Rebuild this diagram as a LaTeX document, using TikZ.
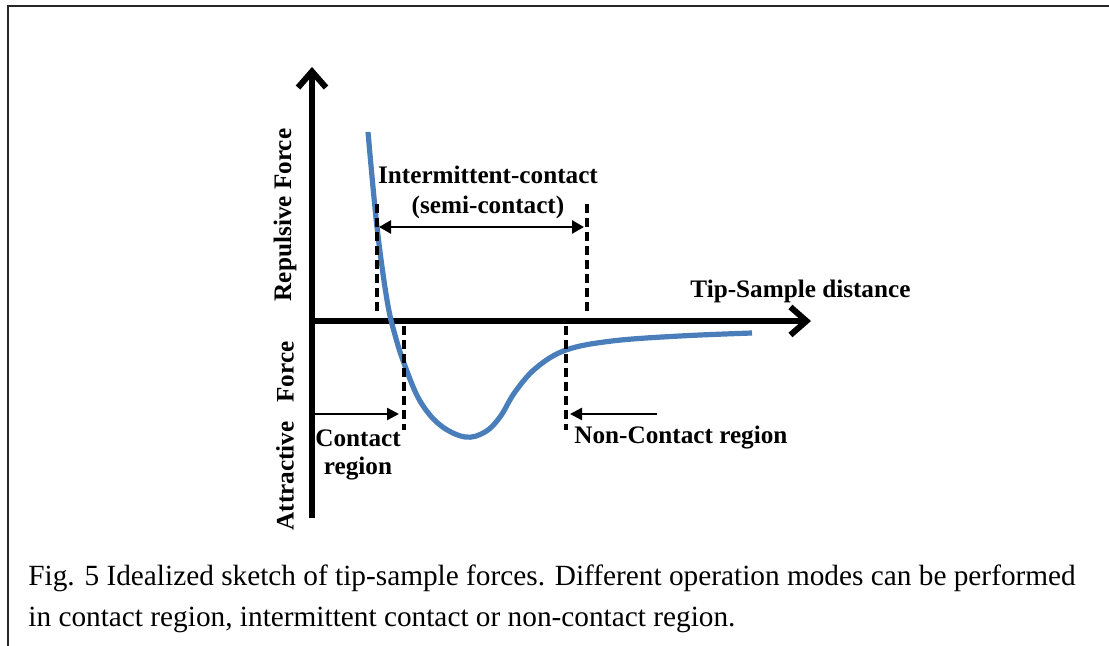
\documentclass[tikz,border=0pt]{standalone}
\usepackage{fontspec}
\setmainfont{Liberation Serif}
\usetikzlibrary{arrows.meta}

\definecolor{curveblue}{RGB}{74,126,187}
\tikzset{
  axisline/.style={line width=3pt, -{Straight Barb[length=8pt,width=14pt]}},
  bound/.style={line width=1.6pt, dash pattern=on 4.5pt off 2.5pt},
  span/.style={line width=1.3pt, {Triangle[length=6pt,width=6.5pt]}-{Triangle[length=6pt,width=6.5pt]}},
  pointer/.style={line width=1.2pt, -{Triangle[length=6pt,width=6pt]}},
  lbl/.style={font=\fontsize{12.6}{14}\selectfont\bfseries, inner sep=0pt},
  captxt/.style={font=\fontsize{14.65}{16}\selectfont, inner sep=0pt, anchor=west}
}

\begin{document}
\begin{tikzpicture}[x=0.5pt,y=-0.5pt]
  \useasboundingbox (0,0) rectangle (1109,646);
  % frame
  \draw[line width=1pt, black!85] (1109,6) -- (8,6) -- (8,646);

  % axes
  \coordinate (O) at (312,321);
  \coordinate (ybot) at (312,518);
  \coordinate (ytop) at (312,67);
  \coordinate (xend) at (811,321);
  \draw[axisline] (ybot) -- (ytop);
  \draw[axisline] (O) -- (xend);

  \node[lbl, rotate=90] (rep) at (285,215) {Repulsive Force};
  \node[lbl, rotate=90] (att) at (285,436) {Attractive\hspace{0.75em}Force};
  \node[lbl, anchor=west] (dist) at (690,291) {Tip-Sample distance};

  % force curve
  \draw[curveblue, line width=2.6pt] plot[smooth, tension=0.6] coordinates {
    (368,132) (377,227) (387,300) (395,335) (405,366) (420,401) (440,425)
    (465,437) (485,432) (500,417) (515,392) (536,368) (566,350) (612,341)
    (680,336) (752,333)};

  % intermittent region
  \coordinate (ia) at (377,204);
  \coordinate (ib) at (377,316);
  \coordinate (ic) at (587,204);
  \coordinate (id) at (587,316);
  \draw[bound] (ia) -- (ib);
  \draw[bound] (ic) -- (id);
  \coordinate (sl) at (379,227);
  \coordinate (sr) at (584,227);
  \draw[span] (sl) -- (sr);
  \node[lbl] (inter) at (488,175) {Intermittent-contact};
  \node[lbl] (semi) at (488,207) {(semi-contact)};

  % contact region
  \coordinate (ca) at (404,326);
  \coordinate (cb) at (404,430);
  \draw[bound] (ca) -- (cb);
  \coordinate (cl) at (312,414);
  \coordinate (cr) at (399,414);
  \draw[pointer] (cl) -- (cr);
  \node[lbl] (cont) at (358,438) {Contact};
  \node[lbl] (creg) at (358,469) {region};

  % non-contact region
  \coordinate (na) at (566,326);
  \coordinate (nb) at (566,430);
  \draw[bound] (na) -- (nb);
  \coordinate (nr) at (657,414);
  \coordinate (nl) at (570,414);
  \draw[pointer] (nr) -- (nl);
  \node[lbl, anchor=west] (ncont) at (574,438) {Non-Contact region};

  % caption
  \node[captxt] (cap1) at (28,578) {Fig. 5 Idealized sketch of tip-sample forces. Different operation modes can be performed};
  \node[captxt] (cap2) at (28,620) {in contact region, intermittent contact or non-contact region.};
\end{tikzpicture}
\end{document}
